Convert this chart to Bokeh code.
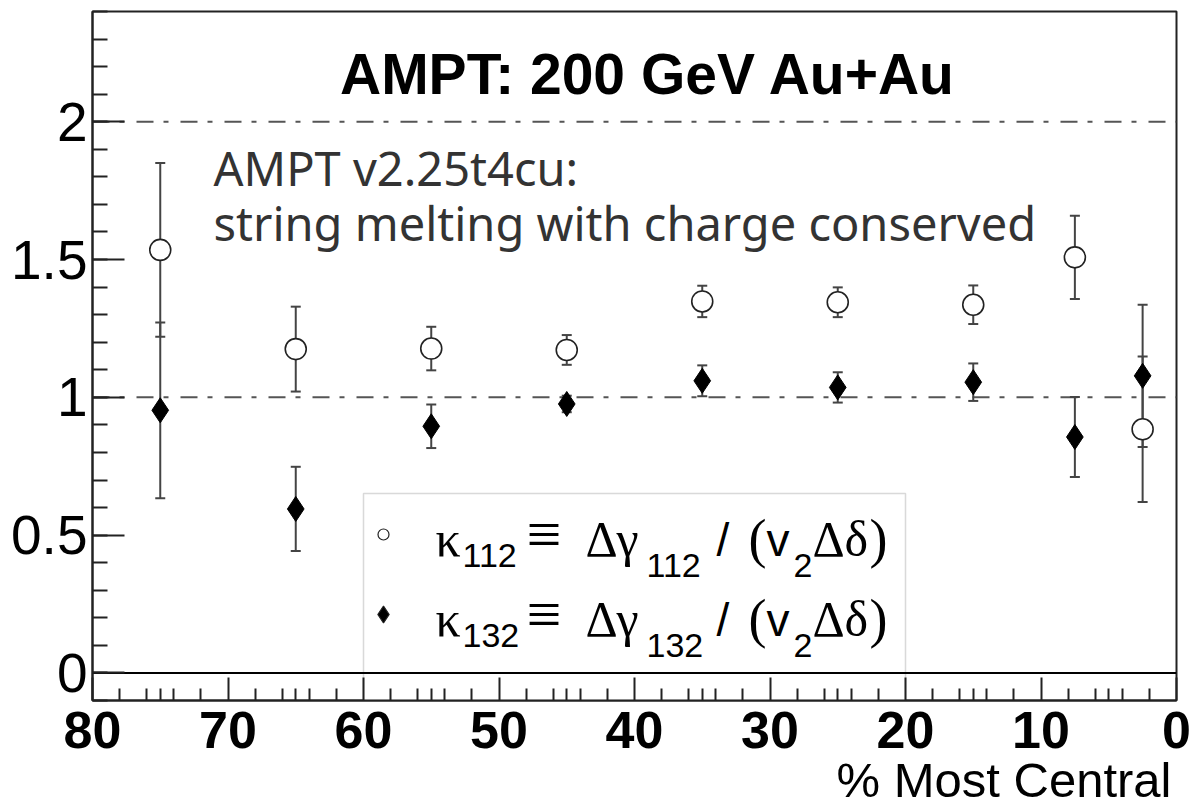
from bokeh.plotting import figure
from bokeh.models import (Whisker, TeeHead, ColumnDataSource, Span, BoxAnnotation,
                          Label, FixedTicker, Range1d, Title)
from bokeh.embed import file_html
from bokeh.resources import INLINE

# ---------------- data ----------------
centrality = [75, 65, 55, 45, 35, 25, 15, 7.5, 2.5]
kappa112 = [1.535, 1.175, 1.177, 1.172, 1.348, 1.345, 1.336, 1.508, 0.884]
kappa112_err = [0.315, 0.154, 0.079, 0.054, 0.057, 0.054, 0.070, 0.151, 0.264]
kappa132 = [0.953, 0.595, 0.895, 0.976, 1.060, 1.036, 1.055, 0.856, 1.078]
kappa132_err = [0.319, 0.153, 0.079, 0.030, 0.056, 0.055, 0.068, 0.145, 0.258]

x_major_ticks = [0, 10, 20, 30, 40, 50, 60, 70, 80]
x_minor_offsets = [2, 4, 5, 6, 8]
y_major_ticks = [0, 0.5, 1, 1.5, 2]
y_tick_labels = ["0", "0.5", "1", "1.5", "2"]
ref_lines = [1, 2]

title_text = "AMPT: 200 GeV Au+Au"
note_lines = ["AMPT v2.25t4cu:", "string melting with charge conserved"]
x_title = "% Most Central"

# ---------------- layout helpers ----------------
W, H = 1191, 805
FL, FR, FT, FB = 92, 1176, 11, 700          # frame edges in px
XMIN, XMAX = 80, 0
YMIN, YMAX = -0.1, 2.4


def fx(px):
    return XMIN + (px - FL) * (XMAX - XMIN) / (FR - FL)


def fy(py):
    return YMAX + (py - FT) * (YMIN - YMAX) / (FB - FT)


SANS = "Liberation Sans"
SERIF = "Liberation Serif"


def add_text(p, px, baseline_px, text, font, size, style="normal", align="left",
             color="black"):
    # place by alphabetic baseline (converted to the middle of the font box)
    mid = baseline_px - 0.34 * size
    p.add_layout(Label(x=fx(px), y=fy(mid), text=text, text_align=align,
                       text_baseline="middle", text_font=font, text_font_style=style,
                       text_font_size=f"{size}px", text_color=color))


p = figure(width=W, height=H, x_range=Range1d(XMIN, XMAX), y_range=Range1d(YMIN, YMAX),
           output_backend="svg", toolbar_location=None,
           min_border_left=FL, min_border_right=W - FR, min_border_top=FT,
           min_border_bottom=H - FB)
p.xgrid.visible = False
p.ygrid.visible = False
p.outline_line_color = "#222222"
p.outline_line_width = 2
p.background_fill_color = "white"
p.border_fill_color = "white"

# axes
x_minor = [d + o for d in x_major_ticks[:-1] for o in x_minor_offsets]
p.xaxis.ticker = FixedTicker(ticks=x_major_ticks, minor_ticks=x_minor)
p.xaxis.major_tick_in = 23
p.xaxis.major_tick_out = 0
p.xaxis.minor_tick_in = 12
p.xaxis.minor_tick_out = 0
p.xaxis.major_label_text_font = SANS
p.xaxis.major_label_text_font_style = "bold"
p.xaxis.major_label_text_font_size = "52px"
p.xaxis.major_label_text_color = "black"
p.xaxis.major_label_standoff = 11
p.xaxis.axis_line_width = 2
p.xaxis.axis_line_color = "#222222"
p.xaxis.major_tick_line_width = 2
p.xaxis.minor_tick_line_width = 2
p.xaxis.major_tick_line_color = "#222222"
p.xaxis.minor_tick_line_color = "#222222"
# a tiny blank axis label only reserves a little extra space under the tick labels
p.xaxis.axis_label = " "
p.xaxis.axis_label_text_font_size = "1px"
p.xaxis.axis_label_standoff = 15

# x-axis title, right aligned below the tick labels
p.add_layout(Title(text=x_title, align="right", vertical_align="top", standoff=-34,
                   offset=5, text_font=SANS, text_font_style="normal",
                   text_font_size="49px", text_color="black"), "below")

y_minor = [round(YMIN + 0.1 * i, 1) for i in range(26)]
p.yaxis.ticker = FixedTicker(ticks=y_major_ticks, minor_ticks=y_minor)
p.yaxis.major_label_overrides = {t: l for t, l in zip(y_major_ticks, y_tick_labels)}
p.yaxis.major_tick_in = 32
p.yaxis.major_tick_out = 0
p.yaxis.minor_tick_in = 15
p.yaxis.minor_tick_out = 0
p.yaxis.major_label_text_font = SANS
p.yaxis.major_label_text_font_size = "55px"
p.yaxis.major_label_text_color = "black"
p.yaxis.major_label_standoff = 5
p.yaxis.axis_line_width = 2
p.yaxis.axis_line_color = "#222222"
p.yaxis.major_tick_line_width = 2
p.yaxis.minor_tick_line_width = 2
p.yaxis.major_tick_line_color = "#222222"
p.yaxis.minor_tick_line_color = "#222222"

# legend box (drawn under the zero line)
p.add_layout(BoxAnnotation(left=fx(363), right=fx(905), top=fy(493), bottom=YMIN,
                           fill_color="white", fill_alpha=1.0,
                           line_color="#808080", line_width=1.5, level="underlay"))

# reference lines
for r in ref_lines:
    p.add_layout(Span(location=r, dimension="width", line_color="#555555",
                      line_width=2, line_dash="17 10 5 12", level="underlay"))
p.add_layout(Span(location=0, dimension="width", line_color="black", line_width=2,
                  level="underlay"))


# error bars
def add_errors(xs, ys, es):
    src = ColumnDataSource(dict(x=xs, upper=[y + e for y, e in zip(ys, es)],
                                lower=[y - e for y, e in zip(ys, es)]))
    w = Whisker(base="x", upper="upper", lower="lower", source=src, dimension="height",
                line_color="#444444", line_width=2, level="underlay",
                upper_head=TeeHead(size=10, line_color="#444444", line_width=2),
                lower_head=TeeHead(size=10, line_color="#444444", line_width=2))
    p.add_layout(w)


add_errors(centrality, kappa112, kappa112_err)
add_errors(centrality, kappa132, kappa132_err)

p.scatter(centrality, kappa132, marker="diamond", size=25, fill_color="black",
          line_color="black", line_width=1)
p.scatter(centrality, kappa112, marker="circle", size=21, fill_color="white",
          line_color="#222222", line_width=1.6)

# title & notes
add_text(p, 647.5, 93, title_text, SANS, 57, style="bold", align="center")
add_text(p, 213, 183, note_lines[0], "Noto Sans", 47, color="#333333")
add_text(p, 213, 238, note_lines[1], "Noto Sans", 47, color="#333333")

# legend content
legend_rows = [("112", "circle", 11, "white", 534), ("132", "diamond", 17, "black", 614)]
for sub, marker, msize, mfill, my in legend_rows:
    p.scatter([fx(383)], [fy(my)], marker=marker, size=msize, fill_color=mfill,
              line_color="#222222", line_width=1.2)
    by = my + 21
    pieces = [("κ", 435, 0, SERIF, 50), (sub, 462, 12, SANS, 34),
              ("≡", 526, 0, SERIF, 62), ("Δ", 585, 0, SERIF, 50),
              ("γ", 616, 0, SERIF, 50), (sub, 646, 22, SANS, 34),
              ("/", 716, 0, SANS, 46), ("(", 748, 2, SERIF, 54),
              ("v", 766, 0, SANS, 46), ("2", 793, 22, SANS, 34),
              ("Δ", 812, 0, SERIF, 50), ("δ", 844, 0, SERIF, 50),
              (")", 869, 2, SERIF, 54)]
    for txt, px, dy, font, size in pieces:
        add_text(p, px, by + dy, txt, font, size)

open("out.html", "w").write(file_html(p, INLINE))
